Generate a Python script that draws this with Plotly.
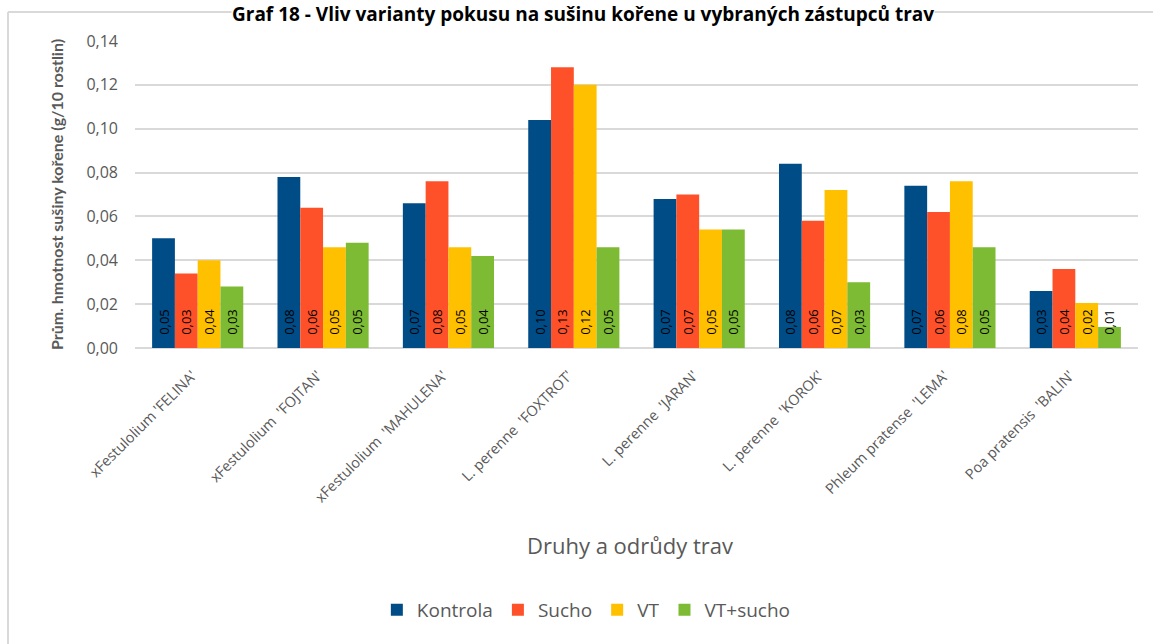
import plotly.graph_objects as go

categories = ["xFestulolium 'FELINA'", "xFestulolium  'FOJTAN'", "xFestulolium  'MAHULENA'",
              "L. perenne  'FOXTROT'", "L. perenne  'JARAN'", "L. perenne  'KOROK'",
              "Phleum pratense  'LEMA'", "Poa pratensis  'BALIN'"]
kontrola = [0.050, 0.078, 0.066, 0.104, 0.068, 0.084, 0.074, 0.026]
sucho = [0.034, 0.064, 0.076, 0.128, 0.070, 0.058, 0.062, 0.036]
vt = [0.040, 0.046, 0.046, 0.120, 0.054, 0.072, 0.076, 0.0205]
vt_sucho = [0.028, 0.048, 0.042, 0.046, 0.054, 0.030, 0.046, 0.0096]
series_names = ["Kontrola", "Sucho", "VT", "VT+sucho"]
series_values = [kontrola, sucho, vt, vt_sucho]
colors = ["#004C87", "#FF5129", "#FFC000", "#7CBB33"]
y_ticks = [0.00, 0.02, 0.04, 0.06, 0.08, 0.10, 0.12, 0.14]

W, H = 1153, 644
L, R, T, B = 135, 15, 41, 296
pw, ph = W - L - R, H - T - B

def px_x(x):
    return (x - L) / pw

def px_y(y):
    return (H - B - y) / ph

FONT = "Open Sans"
GRAY = "#595959"
NB = "\u00a0"

fig = go.Figure()
for name, vals, col in zip(series_names, series_values, colors):
    fig.add_trace(go.Bar(
        x=categories, y=vals, name=name, marker_color=col, marker_line_width=0,
        texttemplate=NB * 3 + "%{y:.2f}", textposition="inside", insidetextanchor="start",
        textangle=-90, textfont=dict(family=FONT, size=13, color="black"),
        cliponaxis=False, hoverinfo="skip",
    ))

fig.update_layout(
    width=W, height=H,
    margin=dict(l=L, r=R, t=T, b=B),
    paper_bgcolor="white", plot_bgcolor="white",
    barmode="group", bargap=0.273, bargroupgap=0,
    separators=", ",
    uniformtext=dict(minsize=13, mode="show"),
    font=dict(family=FONT, color=GRAY),
    showlegend=True,
    legend=dict(orientation="h", x=0.45, xanchor="center", y=px_y(610), yanchor="middle",
                font=dict(family=FONT, size=19, color=GRAY), traceorder="normal"),
)
fig.update_yaxes(
    range=[0, 0.14], tickvals=y_ticks, tickformat=".2f",
    showgrid=True, gridcolor="#D9D9D9", gridwidth=2,
    zeroline=True, zerolinecolor="#D9D9D9", zerolinewidth=2,
    showline=False, ticks="", ticklabelstandoff=16,
    tickfont=dict(family=FONT, size=16, color=GRAY),
    title=dict(text="<b>Prům. hmotnost sušiny kořene (g/10 rostlin)</b>",
               font=dict(family="Lato", size=16, color=GRAY), standoff=18),
    automargin=False,
)
fig.update_xaxes(
    tickangle=-45, showgrid=False, showline=False, ticks="",
    tickvals=categories, ticktext=[c + NB * 2 for c in categories],
    ticklabelstandoff=10,
    tickfont=dict(family=FONT, size=14.5, color=GRAY), automargin=False,
)

fig.add_annotation(text="Druhy a odrůdy trav", x=px_x(630), xref="paper", y=px_y(545), yref="paper",
                   showarrow=False, xanchor="center", yanchor="middle",
                   font=dict(family=FONT, size=22, color=GRAY))

# chart frame (only left and top edges visible)
fig.add_shape(type="line", xref="paper", yref="paper", x0=px_x(8), x1=px_x(8),
              y0=px_y(12), y1=px_y(650), line=dict(color="#D9D9D9", width=2))
fig.add_shape(type="line", xref="paper", yref="paper", x0=px_x(8), x1=px_x(1160),
              y0=px_y(12), y1=px_y(12), line=dict(color="#D9D9D9", width=2))

fig.add_annotation(text="<b>Graf 18 - Vliv varianty pokusu na sušinu kořene u vybraných zástupců trav</b>",
                   x=px_x(583), xref="paper", y=px_y(0), yref="paper",
                   showarrow=False, xanchor="center", yanchor="top",
                   bgcolor="white", borderpad=0,
                   font=dict(family=FONT, size=19, color="black"))

fig.write_html("out.html")
